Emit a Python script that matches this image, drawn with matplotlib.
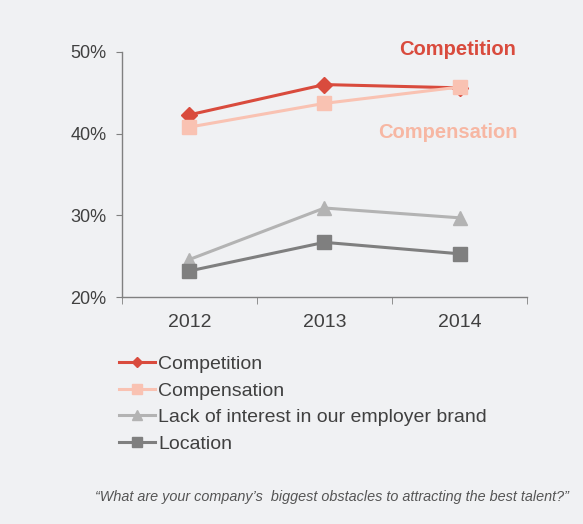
import numpy as np
import matplotlib
matplotlib.use('Agg')
import matplotlib.pyplot as plt

years = ['2012', '2013', '2014']
competition = [42.3, 46.0, 45.6]
compensation = [40.8, 43.7, 45.7]
lack_of_interest = [24.6, 30.9, 29.7]
location = [23.2, 26.7, 25.3]

y_ticks = [20, 30, 40, 50]
y_tick_labels = ['20%', '30%', '40%', '50%']

caption = u'\u201cWhat are your company\u2019s  biggest obstacles to attracting the best talent?\u201d'

bg = '#f0f1f3'
txt = '#404040'
c_comp = '#d94b3d'
c_pay = '#f9c2b2'
c_lack = '#b3b3b3'
c_loc = '#7f7f7f'

plt.rcParams['font.family'] = ['Liberation Sans', 'DejaVu Sans']

fig = plt.figure(figsize=(5.83, 5.24), dpi=100, facecolor=bg)
ax = fig.add_axes([0.209, 0.433, 0.695, 0.468])
ax.set_facecolor(bg)

x = np.arange(len(years))
ax.plot(x, competition, color=c_comp, linewidth=2.2, marker='D', markersize=8, label='Competition')
ax.plot(x, compensation, color=c_pay, linewidth=2.2, marker='s', markersize=10, label='Compensation')
ax.plot(x, lack_of_interest, color=c_lack, linewidth=2.2, marker='^', markersize=10, label='Lack of interest in our employer brand')
ax.plot(x, location, color=c_loc, linewidth=2.2, marker='s', markersize=10, label='Location')

ax.set_xlim(-0.5, 2.5)
ax.set_ylim(20, 50)
ax.set_xticks(x)
ax.set_xticklabels(years, fontsize=14, color=txt)
ax.set_xticks([-0.5, 0.5, 1.5, 2.5], minor=True)
ax.tick_params(axis='x', which='major', length=0, pad=12)
ax.tick_params(axis='x', which='minor', length=5, color='#808080', direction='out')
ax.set_yticks(y_ticks)
ax.set_yticklabels(y_tick_labels, fontsize=13, color=txt)
ax.tick_params(axis='y', length=4, color='#808080', pad=7)

for s in ['top', 'right']:
    ax.spines[s].set_visible(False)
for s in ['left', 'bottom']:
    ax.spines[s].set_color('#808080')
    ax.spines[s].set_linewidth(1)

ax.text(2.42, 50.25, 'Competition', color=c_comp, fontsize=14.5, fontweight='bold', ha='right', va='center')
ax.text(2.43, 40.15, 'Compensation', color='#f7b7a3', fontsize=14.5, fontweight='bold', ha='right', va='center')

leg = fig.legend(loc='upper left', bbox_to_anchor=(0.19, 0.337), frameon=False,
                 fontsize=14, handlelength=1.85, handletextpad=0.2, labelspacing=0.47,
                 markerscale=0.65, borderaxespad=0)
for t in leg.get_texts():
    t.set_color(txt)

fig.text(0.975, 0.051, caption, fontsize=10.4, style='italic', color='#555555', ha='right', va='center')

fig.savefig('out.png', dpi=100, facecolor=bg)
